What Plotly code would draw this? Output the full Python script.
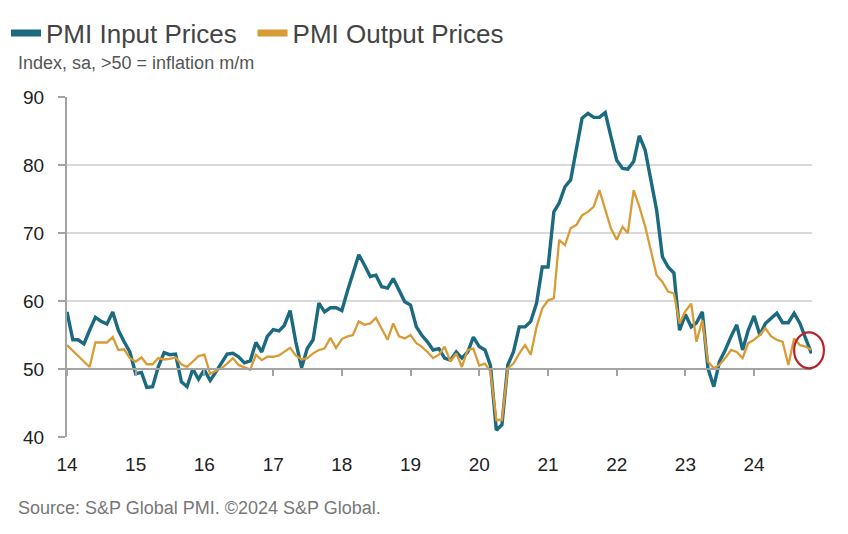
import pandas as pd
import plotly.graph_objects as go

# Monthly, Jan 2014 .. Nov 2024
months = pd.date_range("2014-01-01", periods=131, freq="MS")

input_prices = [
    58.4, 54.3, 54.3, 53.7, 55.7, 57.6, 57.0, 56.6, 58.4, 55.7, 54.0, 52.5,
    49.3, 49.5, 47.3, 47.4, 50.3, 52.4, 52.1, 52.2, 48.1, 47.4, 50.0, 48.5,
    49.9, 48.3, 49.5, 51.0, 52.2, 52.3, 51.8, 50.9, 51.2, 53.9, 52.5, 54.8,
    55.8, 55.6, 56.4, 58.6, 54.0, 50.2, 53.0, 54.3, 59.7, 58.4, 59.0, 59.0,
    58.6, 61.6, 64.1, 66.8, 65.3, 63.6, 63.8, 62.1, 61.9, 63.3, 61.6, 59.9,
    59.4, 56.2, 55.0, 54.0, 52.8, 53.0, 51.6, 51.3, 52.5, 51.6, 52.5, 54.7,
    53.3, 52.8, 50.5, 41.0, 41.8, 50.6, 52.5, 56.2, 56.2, 57.0, 59.7, 65.0,
    65.0, 73.1, 74.4, 76.8, 77.8, 82.7, 86.9, 87.6, 87.0, 87.0, 87.7, 84.2,
    80.7, 79.5, 79.4, 80.5, 84.3, 82.2, 78.0, 73.4, 66.5, 65.0, 64.1, 55.7,
    58.0, 56.2, 56.8, 58.4, 50.1, 47.4, 51.1, 52.8, 54.8, 56.5, 52.8, 55.7,
    57.8, 55.0, 56.7, 57.5, 58.2, 56.8, 56.8, 58.2, 56.7, 54.5, 52.3,
]

output_prices = [
    53.5, 52.7, 51.9, 51.1, 50.3, 53.9, 53.9, 53.9, 54.7, 52.8, 52.9, 51.6,
    51.1, 51.7, 50.7, 50.7, 51.6, 51.4, 51.5, 51.7, 50.7, 50.3, 51.1, 51.9,
    52.1, 49.3, 49.7, 50.1, 50.8, 51.6, 50.6, 50.2, 49.9, 52.1, 51.3, 51.8,
    51.8, 52.0, 52.5, 53.1, 52.0, 51.4, 51.6, 52.3, 52.8, 53.0, 54.6, 53.1,
    54.4, 54.8, 55.0, 57.0, 56.5, 56.7, 57.5, 56.0, 54.3, 56.7, 54.8, 54.5,
    55.0, 53.8, 53.3, 52.5, 51.6, 52.1, 53.3, 51.1, 52.3, 50.3, 52.8, 53.0,
    50.5, 50.8, 49.6, 42.5, 42.5, 50.1, 50.8, 52.3, 53.5, 52.1, 56.2, 58.9,
    60.1, 60.4, 69.0, 68.2, 70.7, 71.2, 72.6, 73.1, 73.9, 76.3, 73.4, 70.7,
    69.0, 70.9, 70.0, 76.3, 73.9, 71.0, 67.5, 63.8, 62.8, 61.4, 61.1, 56.7,
    58.5, 59.6, 54.0, 57.2, 51.1, 50.1, 50.6, 51.6, 52.8, 52.5, 51.6, 53.8,
    54.3, 55.0, 56.0, 54.8, 54.3, 54.0, 50.6, 54.5, 53.5, 53.3, 52.8,
]

series_names = ["PMI Input Prices", "PMI Output Prices"]
year_ticks = pd.date_range("2014-01-01", "2024-01-01", freq="YS")
year_labels = [d.strftime("%y") for d in year_ticks]
y_ticks = [40, 50, 60, 70, 80, 90]

TEAL = "#1b6a80"
GOLD = "#d99b35"
FONT = "Liberation Sans, Arial, sans-serif"

x_range = ["2014-01-01", "2024-11-04"]

fig = go.Figure()

fig.add_trace(go.Scatter(x=months, y=input_prices, mode="lines",
                         line=dict(color=TEAL, width=3.4), showlegend=False,
                         hoverinfo="skip"))
fig.add_trace(go.Scatter(x=months, y=output_prices, mode="lines",
                         line=dict(color=GOLD, width=2.3), showlegend=False,
                         hoverinfo="skip"))

# legend-only entries with thick swatches (one legend box each)
fig.add_trace(go.Scatter(x=[None], y=[None], mode="lines", name=series_names[0],
                         line=dict(color=TEAL, width=7), legend="legend"))
fig.add_trace(go.Scatter(x=[None], y=[None], mode="lines", name=series_names[1],
                         line=dict(color=GOLD, width=7), legend="legend2"))

# dummy trace so the crossing axis at 50 is drawn
fig.add_trace(go.Scatter(x=[months[0]], y=[None], xaxis="x2", mode="lines",
                         showlegend=False, hoverinfo="skip"))

legend_style = dict(orientation="h", xanchor="left", yanchor="middle",
                    xref="container", yref="container", y=0.938,
                    font=dict(size=26, color="#444", family=FONT),
                    itemwidth=30, bgcolor="rgba(0,0,0,0)")

fig.update_layout(
    width=848, height=534,
    margin=dict(l=67, r=36, t=97, b=97),
    paper_bgcolor="white", plot_bgcolor="white",
    font=dict(family=FONT, color="#222"),
    showlegend=True,
    legend=dict(x=0.0071, **legend_style),
    legend2=dict(x=0.2978, **legend_style),
    xaxis=dict(range=x_range, tickvals=year_ticks, ticktext=year_labels,
               showgrid=False, showline=False, zeroline=False, ticks="",
               tickfont=dict(size=19, color="#222"), ticklabelstandoff=14,
               automargin=False),
    xaxis2=dict(overlaying="x", matches="x", anchor="free", position=0.2,
                range=x_range, tickvals=year_ticks, showticklabels=False,
                showline=True, linecolor="#a3a3a3", linewidth=2,
                ticks="outside", ticklen=6, tickcolor="#a3a3a3", tickwidth=2,
                showgrid=False, zeroline=False),
    yaxis=dict(range=[40, 90], tickvals=y_ticks, showgrid=True,
               gridcolor="#d9d9d9", gridwidth=2, zeroline=False,
               showline=True, linecolor="#a3a3a3", linewidth=2,
               ticks="outside", ticklen=7, tickcolor="#a3a3a3", tickwidth=2,
               tickfont=dict(size=19, color="#222"), ticklabelstandoff=10,
               automargin=False),
    annotations=[
        dict(text="Index, sa, >50 = inflation m/m", xref="paper", yref="paper",
             x=-0.0685, y=1.10, xanchor="left", yanchor="middle", showarrow=False,
             font=dict(size=18, color="#555", family=FONT)),
        dict(text="Source: S&P Global PMI. ©2024 S&P Global.", xref="paper", yref="paper",
             x=-0.0685, y=-0.21, xanchor="left", yanchor="middle", showarrow=False,
             font=dict(size=18, color="#777", family=FONT)),
    ],
    shapes=[
        dict(type="circle", xref="paper", yref="y", x0=0.976, x1=1.016,
             y0=50.1, y1=55.4, line=dict(color="#b8232b", width=2.2)),
    ],
)

fig.write_html("out.html", config={"displayModeBar": False},
               post_script="document.body.style.margin='0';document.body.style.padding='0';")
